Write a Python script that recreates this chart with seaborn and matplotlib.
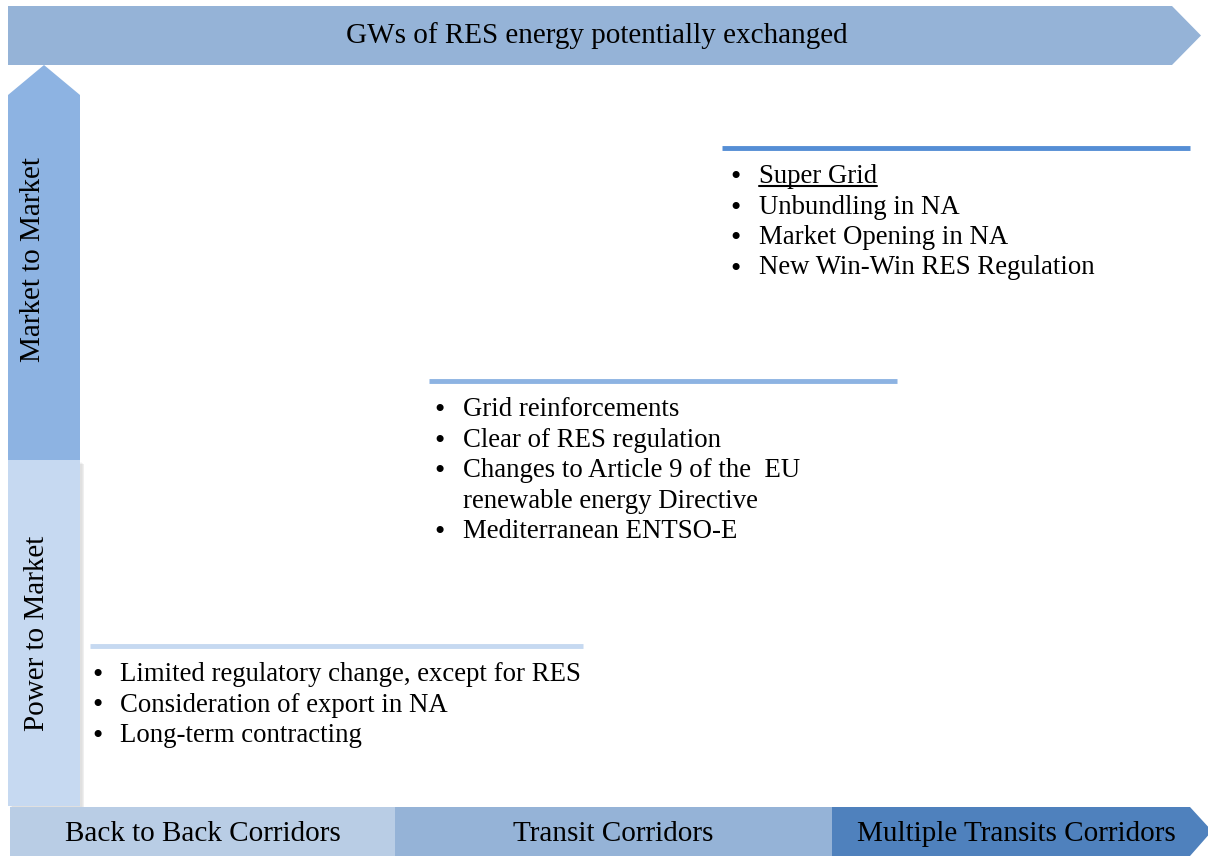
import matplotlib
matplotlib.use("Agg")
import matplotlib.pyplot as plt
import seaborn as sns
from matplotlib.patches import Polygon, Rectangle

# diagram content
top_label = "GWs of RES energy potentially exchanged"
side_labels = ["Market to Market", "Power to Market"]
corridors = ["Back to Back Corridors", "Transit Corridors", "Multiple Transits Corridors"]
corridor_edges = [10, 395, 832, 1190]
corridor_colors = ["#B9CDE5", "#95B3D7", "#4F81BD"]

tier_items = [
    ["Limited regulatory change, except for RES", "Consideration of export in NA", "Long-term contracting"],
    ["Grid reinforcements", "Clear of RES regulation",
     "Changes to Article 9 of the  EU\nrenewable energy Directive", "Mediterranean ENTSO-E"],
    ["Super Grid", "Unbundling in NA", "Market Opening in NA", "New Win-Win RES Regulation"],
]
# (line start, line end, line y, bullet x, text x)
tier_layout = [(90, 583, 646, 97, 120), (429, 897, 381, 440, 463), (722, 1190, 148, 736, 759)]
tier_line_colors = ["#C6D9F1", "#8DB3E2", "#558ED5"]

sns.set_style("white")
plt.rcParams["font.family"] = ["Liberation Serif", "DejaVu Serif"]
plt.rcParams["text.color"] = "black"

fig = plt.figure(figsize=(12.08, 8.56), dpi=100)
ax = fig.add_axes([0, 0, 1, 1])
ax.set_xlim(0, 1208)
ax.set_ylim(856, 0)
ax.axis("off")

fs = 21
fs_items = 19.3
base = 8  # offset from visual centre of a row to its baseline

# top arrow
ax.add_patch(Polygon([(8, 6), (1172, 6), (1201, 35.5), (1172, 65), (8, 65)],
                     closed=True, color="#95B3D7", lw=0))
ax.text(597, 35 + base, top_label, ha="center", va="baseline", fontsize=fs)

# vertical arrow (upper part)
ax.add_patch(Polygon([(8, 460), (8, 95), (44, 65), (80, 95), (80, 460)],
                     closed=True, color="#8DB3E2", lw=0))
# lower part with a soft shadow
for i, a in enumerate([0.05, 0.08, 0.12]):
    ax.add_patch(Rectangle((8 + 2 + i, 460 + 2 + i), 72, 346, color="#808080", alpha=a, lw=0))
ax.add_patch(Rectangle((8, 460), 72, 346, color="#C6D9F1", lw=0))
ax.text(33, 260, side_labels[0], rotation=90, ha="center", va="center", fontsize=fs)
ax.text(37, 633, side_labels[1], rotation=90, ha="center", va="center", fontsize=fs)

# bottom corridor bar
for i, (name, col) in enumerate(zip(corridors, corridor_colors)):
    x0, x1 = corridor_edges[i], corridor_edges[i + 1]
    if i == len(corridors) - 1:
        pts = [(x0, 807), (x1, 807), (1212, 831), (x1, 856), (x0, 856)]
    else:
        pts = [(x0, 807), (x1, 807), (x1, 856), (x0, 856)]
    ax.add_patch(Polygon(pts, closed=True, color=col, lw=0))
    cx = (x0 + x1) / 2 + (5 if i == 2 else 0)
    ax.text(cx, 833 + base, name, ha="center", va="baseline", fontsize=fs)

# tiers
line_h = 30.5
for items, (x0, x1, y, bx, tx), col in zip(tier_items, tier_layout, tier_line_colors):
    ax.plot([x0, x1], [y, y], color=col, lw=3.5, solid_capstyle="butt")
    yy = y + 27
    for item in items:
        ax.text(bx, yy + base + 2, "\u2022", ha="center", va="baseline", fontsize=fs_items + 2)
        for part in item.split("\n"):
            t = ax.text(tx, yy + base, part, ha="left", va="baseline", fontsize=fs_items)
            if part == "Super Grid":
                fig.canvas.draw()
                bb = t.get_window_extent().transformed(ax.transData.inverted())
                ax.plot([bb.x0, bb.x1], [yy + 11, yy + 11], color="black", lw=1.5)
            yy += line_h

fig.savefig("out.png", dpi=100)
